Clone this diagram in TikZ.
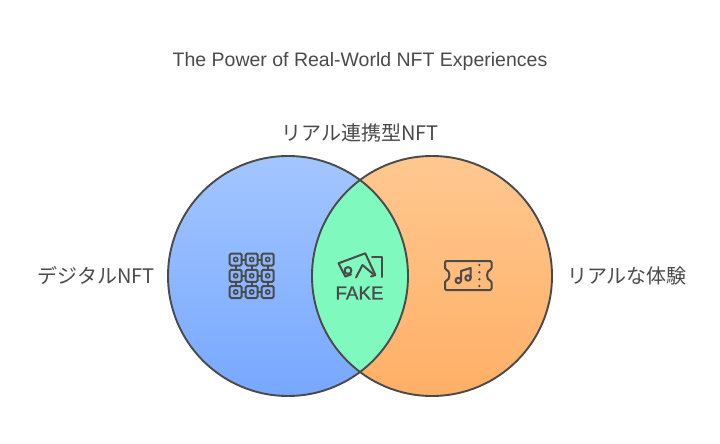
\documentclass[tikz,border=0pt]{standalone}
\usepackage{fontspec}
\setmainfont{Liberation Sans}
\newfontfamily\jpfont{Noto Sans CJK JP}
\newfontfamily\fakefont[FakeBold=0.7]{Liberation Sans}
\definecolor{ink}{HTML}{4A4A4A}
\definecolor{blueTop}{HTML}{A3C6FF}
\definecolor{blueBot}{HTML}{77A7FF}
\definecolor{orgTop}{HTML}{FFC890}
\definecolor{orgBot}{HTML}{FFAF66}
\definecolor{midGreen}{HTML}{80F9BE}
\tikzset{
  ring/.style={draw=ink,line width=1.9pt},
  icon/.style={draw=ink,line width=2pt,line cap=round,line join=round},
  label/.style={text=ink,font=\fontsize{20}{22}\selectfont\jpfont,inner sep=0pt,anchor=center},
  ttl/.style={text=ink,font=\fontsize{19.5}{22}\selectfont,inner sep=0pt,anchor=center},
}
\begin{document}
\begin{tikzpicture}[x=1pt,y=-1pt]
\useasboundingbox (0,0) rectangle (720,444);
\fill[white] (0,0) rectangle (720,444);
% circles
\shade[top color=blueTop,bottom color=blueBot] (288,276) circle (120);
\shade[top color=orgTop,bottom color=orgBot] (432,276) circle (120);
\begin{scope}
  \clip (288,276) circle (120);
  \fill[midGreen] (432,276) circle (120);
\end{scope}
\draw[ring] (288,276) circle (120);
\draw[ring] (432,276) circle (120);
% texts
\node[ttl] (title) at (360,61) {The Power of Real-World NFT Experiences};
\node[label] (top) at (360,132.5) {リアル連携型NFT};
\node[label] (left) at (96,276) {デジタルNFT};
\node[label] (right) at (627,276) {リアルな体験};
% grid icon
\foreach \x in {235.7,251.7,267.7}{
  \foreach \y in {259.5,275.8,292}{
    \draw[icon,rounded corners=1.5pt] (\x-6,\y-6) rectangle (\x+6,\y+6);
    \draw[icon,line width=1.6pt] (\x,\y) circle (2.1);
  }
}
\foreach \y in {259.5,275.8,292}{
  \draw[icon] (241.7,\y) -- (245.7,\y);
  \draw[icon] (257.7,\y) -- (261.7,\y);
}
\foreach \x in {235.7,251.7,267.7}{
  \draw[icon] (\x,265.5) -- (\x,269.8);
  \draw[icon] (\x,281.8) -- (\x,286);
}
% fake icon
\draw[icon] (345.3,276.5) -- (338.5,263.3) -- (365.3,253.3) -- (375.3,275) -- (371,276.5);
\draw[icon] (345.3,276.5) -- (351,274.5);
\draw[icon] (372,257.3) -- (382,257.3) -- (382,277);
\draw[icon] (348,270.5) circle (3.4);
\draw[icon] (356,277.5) -- (362.5,265) -- (373,274);
\node[text=ink,font=\fontsize{18.8}{20}\selectfont\fakefont,inner sep=0pt] (fake) at (359.5,293) {FAKE};
% ticket icon
\draw[icon,rounded corners=1.2pt] (445,261) -- (491.5,261) -- (491.5,269.3)
  .. controls (486,270.5) and (486,280) .. (491.5,281)
  -- (491.5,290) -- (445,290) -- (445,281)
  .. controls (450.5,280) and (450.5,270.5) .. (445,269.3) -- cycle;
\foreach \y in {265,272.3,279.3,286}{\fill[ink] (479.3,\y) circle (1.25);}
\draw[icon] (458.3,280.5) circle (2.7);
\draw[icon] (468,278) circle (2.7);
\draw[icon] (461,280.5) -- (461,271) -- (470.7,268) -- (470.7,278);
\end{tikzpicture}
\end{document}
